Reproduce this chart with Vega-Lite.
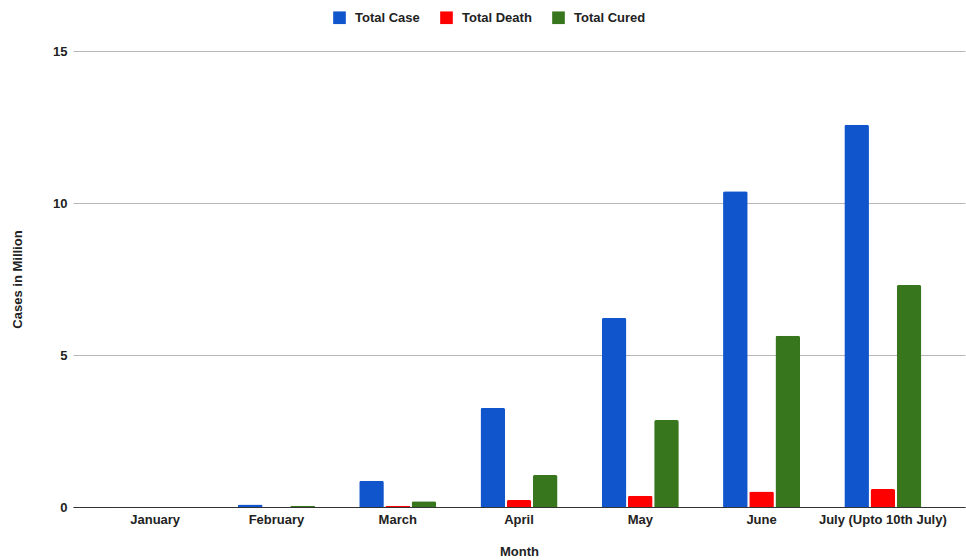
{
  "$schema": "https://vega.github.io/schema/vega-lite/v6.json",
  "autosize": "none",
  "width": 892,
  "height": 456,
  "padding": {"left": 73, "top": 51, "right": 1, "bottom": 53},
  "background": "white",
  "config": {
    "view": {"stroke": null},
    "font": "Liberation Sans"
  },
  "data": {
    "values": [
      {"Month": "January", "Series": "Total Case", "Value": 0.0098},
      {"Month": "January", "Series": "Total Death", "Value": 0.0002},
      {"Month": "January", "Series": "Total Cured", "Value": 0.0003},
      {"Month": "February", "Series": "Total Case", "Value": 0.086},
      {"Month": "February", "Series": "Total Death", "Value": 0.003},
      {"Month": "February", "Series": "Total Cured", "Value": 0.04},
      {"Month": "March", "Series": "Total Case", "Value": 0.86},
      {"Month": "March", "Series": "Total Death", "Value": 0.042},
      {"Month": "March", "Series": "Total Cured", "Value": 0.19},
      {"Month": "April", "Series": "Total Case", "Value": 3.26},
      {"Month": "April", "Series": "Total Death", "Value": 0.23},
      {"Month": "April", "Series": "Total Cured", "Value": 1.05},
      {"Month": "May", "Series": "Total Case", "Value": 6.22},
      {"Month": "May", "Series": "Total Death", "Value": 0.37},
      {"Month": "May", "Series": "Total Cured", "Value": 2.86},
      {"Month": "June", "Series": "Total Case", "Value": 10.39},
      {"Month": "June", "Series": "Total Death", "Value": 0.51},
      {"Month": "June", "Series": "Total Cured", "Value": 5.63},
      {"Month": "July (Upto 10th July)", "Series": "Total Case", "Value": 12.57},
      {"Month": "July (Upto 10th July)", "Series": "Total Death", "Value": 0.59},
      {"Month": "July (Upto 10th July)", "Series": "Total Cured", "Value": 7.3}
    ]
  },
  "mark": {"type": "bar", "cornerRadiusTopLeft": 2, "cornerRadiusTopRight": 2},
  "encoding": {
    "x": {
      "field": "Month",
      "type": "nominal",
      "sort": ["January", "February", "March", "April", "May", "June", "July (Upto 10th July)"],
      "scale": {"paddingInner": 0.365, "paddingOuter": 0.36},
      "axis": {
        "title": "Month",
        "labelAngle": 0,
        "labelFontWeight": "bold",
        "labelFontSize": 13,
        "labelColor": "#222222",
        "labelPadding": 6,
        "ticks": false,
        "domainColor": "#333333",
        "domainWidth": 1,
        "titleFontSize": 13,
        "titleFontWeight": "bold",
        "titleColor": "#222222",
        "titlePadding": 19
      }
    },
    "xOffset": {
      "field": "Series",
      "type": "nominal",
      "sort": ["Total Case", "Total Death", "Total Cured"],
      "scale": {"paddingInner": 0.06}
    },
    "y": {
      "field": "Value",
      "type": "quantitative",
      "scale": {"domain": [0, 15]},
      "axis": {
        "title": "Cases in Million",
        "values": [0, 5, 10, 15],
        "domain": false,
        "ticks": false,
        "gridColor": "#b7b7b7",
        "labelFontWeight": "bold",
        "labelFontSize": 13,
        "labelColor": "#222222",
        "labelPadding": 6,
        "titleFontSize": 13,
        "titleFontWeight": "bold",
        "titleColor": "#222222",
        "titlePadding": 28
      }
    },
    "color": {
      "field": "Series",
      "type": "nominal",
      "sort": ["Total Case", "Total Death", "Total Cured"],
      "scale": {
        "domain": ["Total Case", "Total Death", "Total Cured"],
        "range": ["#1155cc", "#ff0000", "#38761d"]
      },
      "legend": {
        "title": null,
        "orient": "none",
        "direction": "horizontal",
        "legendX": 260,
        "legendY": -40,
        "symbolType": "square",
        "symbolSize": 160,
        "symbolStrokeWidth": 0,
        "symbolOpacity": 1,
        "labelFontSize": 13,
        "labelFontWeight": "bold",
        "labelColor": "#222222",
        "labelOffset": 9,
        "columnPadding": 20
      }
    }
  }
}
